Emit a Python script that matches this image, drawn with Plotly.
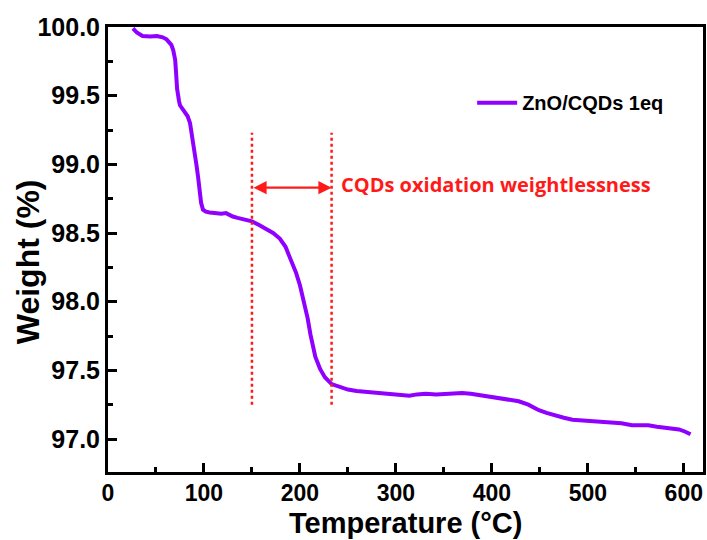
import plotly.graph_objects as go

# Data
temperature_c = [26, 30, 36, 44, 51, 57, 61, 64, 66, 68, 70, 71, 72, 74, 75, 78, 80, 83, 85.5, 88.5,
                 90.5, 92.3, 94, 95.6, 97, 99, 102, 106, 112, 118, 123, 127, 130, 135, 141, 146, 150,
                 157, 165, 172, 179, 185, 189, 193, 196, 200, 203, 206, 208, 211, 213, 216, 221, 226,
                 233, 241, 250, 259, 268, 276, 286, 296, 305, 314, 322, 331, 342, 352, 361, 369, 378,
                 387, 397, 407, 418, 428, 438, 449, 457, 466, 475, 484, 492, 501, 513, 525, 535, 546,
                 555, 563, 572, 581, 588, 595, 601, 607]
weight_pct = [99.99, 99.96, 99.935, 99.93, 99.935, 99.925, 99.91, 99.89, 99.87, 99.83, 99.76, 99.66,
              99.55, 99.46, 99.43, 99.40, 99.38, 99.35, 99.30, 99.18, 99.09, 98.99, 98.90, 98.80,
              98.72, 98.67, 98.655, 98.65, 98.645, 98.64, 98.645, 98.63, 98.62, 98.61, 98.60, 98.595,
              98.585, 98.56, 98.53, 98.50, 98.46, 98.40, 98.33, 98.27, 98.21, 98.12, 98.04, 97.95,
              97.88, 97.76, 97.68, 97.60, 97.51, 97.45, 97.40, 97.38, 97.36, 97.35, 97.345, 97.34,
              97.335, 97.33, 97.325, 97.315, 97.325, 97.33, 97.325, 97.33, 97.335, 97.335, 97.33,
              97.32, 97.31, 97.30, 97.29, 97.275, 97.25, 97.21, 97.19, 97.17, 97.155, 97.14, 97.135,
              97.13, 97.125, 97.12, 97.115, 97.10, 97.10, 97.10, 97.09, 97.08, 97.075, 97.07, 97.055,
              97.035]
series_name = "ZnO/CQDs 1eq"

region_bounds = [150, 233]          # CQDs oxidation region (°C)
region_y = [97.25, 99.23]           # vertical extent of dotted markers
arrow_y = 98.83
region_label = "CQDs oxidation weightlessness"

x_ticks = [0, 100, 200, 300, 400, 500, 600]
y_ticks = [97.0, 97.5, 98.0, 98.5, 99.0, 99.5, 100.0]

PURPLE = "#9000FF"
RED = "#FF1A1A"
AX_FONT = "Liberation Sans, Arial, sans-serif"

fig = go.Figure()
fig.add_trace(go.Scatter(
    x=temperature_c, y=weight_pct, mode="lines", name="<b>" + series_name + "</b>",
    line=dict(color=PURPLE, width=4), cliponaxis=False,
))

for xb in region_bounds:
    fig.add_shape(type="line", xref="x", yref="y", x0=xb, x1=xb, y0=region_y[0], y1=region_y[1],
                  line=dict(color=RED, width=2.5, dash="dot"))

fig.add_annotation(x=region_bounds[1], y=arrow_y, ax=region_bounds[0], ay=arrow_y,
                   xref="x", yref="y", axref="x", ayref="y", text="", showarrow=True,
                   arrowhead=2, arrowside="end+start", arrowsize=1.2, arrowwidth=2.2,
                   arrowcolor=RED, standoff=0, startstandoff=0)
fig.add_annotation(x=241, y=98.85, xref="x", yref="y", text="<b>" + region_label + "</b>",
                   showarrow=False, xanchor="left", yanchor="middle",
                   font=dict(family="Open Sans, sans-serif", size=20, color=RED))

fig.add_annotation(x=0.5, y=-0.1528, xref="paper", yref="paper",
                   text="<b>Temperature (°C)</b>", showarrow=False,
                   xanchor="center", yanchor="bottom", borderpad=0,
                   font=dict(family=AX_FONT, size=29, color="black"))
fig.add_annotation(x=-0.134, y=0.472, xref="paper", yref="paper",
                   text="<b>Weight (%)</b>", showarrow=False, textangle=-90,
                   xanchor="center", yanchor="middle",
                   font=dict(family=AX_FONT, size=32, color="black"))

fig.update_xaxes(
    range=[0, 620], tickvals=x_ticks, ticktext=["<b>%d</b>" % v for v in x_ticks],
    ticks="inside", ticklen=9, tickwidth=3, tickcolor="black",
    minor=dict(dtick=50, tick0=0, ticks="inside", ticklen=5, tickwidth=3, tickcolor="black"),
    showline=True, linewidth=3, linecolor="black", mirror=True, showgrid=False, zeroline=False,
    tickfont=dict(family=AX_FONT, size=23, color="black"), ticklabelstandoff=-2,
)
fig.update_yaxes(
    range=[96.76, 100.0], tickvals=y_ticks, ticktext=["<b>%.1f</b>" % v for v in y_ticks],
    ticks="inside", ticklen=9, tickwidth=3, tickcolor="black",
    minor=dict(dtick=0.25, tick0=97.0, ticks="inside", ticklen=5, tickwidth=3, tickcolor="black"),
    showline=True, linewidth=3, linecolor="black", mirror=True, showgrid=False, zeroline=False,
    tickfont=dict(family=AX_FONT, size=25, color="black"),
)

fig.update_layout(
    width=707, height=540,
    margin=dict(l=108, r=4, t=27, b=68, autoexpand=False),
    paper_bgcolor="white", plot_bgcolor="white",
    showlegend=True,
    legend=dict(x=0.612, y=0.83, xanchor="left", yanchor="middle", bgcolor="rgba(0,0,0,0)",
                font=dict(family=AX_FONT, size=20, color="black"), itemwidth=40),
)

fig.write_html("out.html")
